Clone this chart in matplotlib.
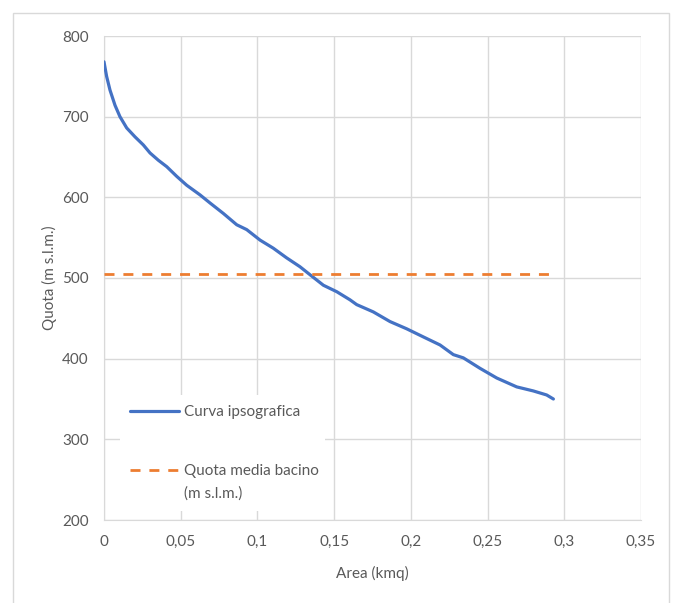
import matplotlib
matplotlib.use("Agg")
import matplotlib.pyplot as plt
from matplotlib.patches import Rectangle

plt.rcParams['font.family'] = ['Lato', 'DejaVu Sans']

# curva ipsografica: area (kmq) vs quota (m s.l.m.)
area = [0.0, 0.0017, 0.0039, 0.0072, 0.0104, 0.0148, 0.0202, 0.0256, 0.030, 0.0354,
        0.0409, 0.0474, 0.0539, 0.0626, 0.0691, 0.0778, 0.0865, 0.093, 0.1017,
        0.1103, 0.119, 0.1277, 0.1343, 0.143, 0.1517, 0.1603, 0.1647, 0.1755,
        0.1864, 0.1973, 0.2081, 0.219, 0.2277, 0.2342, 0.2451, 0.256, 0.269,
        0.2798, 0.2885, 0.2929]
quota = [768, 750, 733, 714, 700, 686, 675, 665, 655, 646,
         638, 626, 615, 603, 593, 580, 566, 560, 547,
         537, 525, 514, 504, 491, 483, 473, 467, 458,
         446, 437, 427, 417, 405, 401, 388, 376, 365,
         360, 355, 350]

quota_media = 505
area_media = [0.0, 0.293]

fig = plt.figure(figsize=(6.75, 6.03), dpi=100)
ax = fig.add_axes([104/675, 1 - 520/603, 537/675, 484/603])

grey = '#d9d9d9'
txt = '#595959'

ax.plot(area, quota, color='#4472C4', lw=2.3, label='Curva ipsografica',
        solid_capstyle='round', solid_joinstyle='round', zorder=3)
ax.plot(area_media, [quota_media, quota_media], color='#ED7D31', lw=2,
        dashes=(3.6, 3.2), label='Quota media bacino\n(m s.l.m.)', zorder=3)

ax.set_xlim(0, 0.35)
ax.set_ylim(200, 800)
xt = [0, 0.05, 0.1, 0.15, 0.2, 0.25, 0.3, 0.35]
ax.set_xticks(xt)
ax.set_xticklabels(['0', '0,05', '0,1', '0,15', '0,2', '0,25', '0,3', '0,35'])
ax.set_yticks(range(200, 801, 100))
ax.tick_params(length=0, colors=txt, labelsize=11)
ax.tick_params(axis='x', pad=11)
ax.tick_params(axis='y', pad=11)
ax.grid(True, color=grey, lw=1)
for s in ax.spines.values():
    s.set_visible(False)
ax.spines['left'].set_visible(True)
ax.spines['left'].set_color(grey)
ax.spines['bottom'].set_visible(True)
ax.spines['bottom'].set_color(grey)

ax.set_xlabel('Area (kmq)', color=txt, fontsize=11, labelpad=12)
ax.set_ylabel('Quota (m s.l.m.)', color=txt, fontsize=11, labelpad=4)

leg = ax.legend(loc='lower left', bbox_to_anchor=(0.015, 0.0026, 0.41, 0.247),
                mode='expand', frameon=True, facecolor='white', edgecolor='none',
                framealpha=1, fancybox=False, handlelength=3.2, handletextpad=0.33,
                labelspacing=2.93, borderpad=0.7, fontsize=11)
for t in leg.get_texts():
    t.set_color(txt)
    t.set_linespacing(1.7)
# allinea il tratteggio alla prima riga dell'etichetta
h = leg.legend_handles[1]
h.set_ydata([y + 8.8 for y in h.get_ydata()])

fig.patches.append(Rectangle((13/675, -0.01), 656/675, 1 - 13/603 + 0.01,
                             transform=fig.transFigure, fill=False,
                             edgecolor=grey, lw=1))

fig.savefig('out.png', dpi=100, facecolor='white')
